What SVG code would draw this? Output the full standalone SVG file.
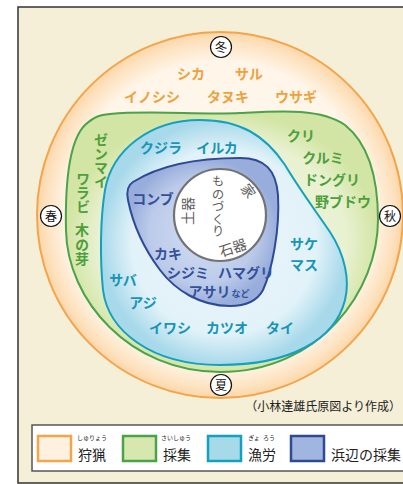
<svg xmlns="http://www.w3.org/2000/svg" width="403" height="484" viewBox="0 0 403 484">
<defs>
<radialGradient id="gOuter" cx="50%" cy="50%" r="50%">
<stop offset="0" stop-color="#fffaf3"/>
<stop offset="0.84" stop-color="#fff5e8"/>
<stop offset="0.95" stop-color="#fde2bf"/>
<stop offset="1" stop-color="#fcd6aa"/>
</radialGradient>
<radialGradient id="gGreen" cx="50%" cy="50%" r="50%">
<stop offset="0" stop-color="#f2f7e4"/>
<stop offset="0.8" stop-color="#e8f1d0"/>
<stop offset="1" stop-color="#d2e5a4"/>
</radialGradient>
<radialGradient id="gCyan" cx="50%" cy="50%" r="50%">
<stop offset="0" stop-color="#eaf6fb"/>
<stop offset="0.75" stop-color="#e2f2f9"/>
<stop offset="1" stop-color="#a8d9ea"/>
</radialGradient>
<radialGradient id="gNavy" cx="50%" cy="50%" r="50%">
<stop offset="0" stop-color="#d2def3"/>
<stop offset="0.7" stop-color="#bccbea"/>
<stop offset="1" stop-color="#98addb"/>
</radialGradient>
<style>
.t{font-family:"Noto Sans CJK JP","Noto Sans",sans-serif;font-weight:bold;font-size:14px;text-anchor:middle}
.v{font-family:"Noto Sans CJK JP","Noto Sans",sans-serif;font-weight:bold;font-size:14px;writing-mode:vertical-rl;text-anchor:start}
.o{fill:#f0a03c}
.g{fill:#4e9e3c}
.c{fill:#1695b6}
.n{fill:#34509a}
.m{font-family:"Noto Sans CJK JP","Noto Sans",sans-serif;font-size:14px;fill:#5e5e5e;text-anchor:middle}
.s{font-family:"Noto Sans CJK JP","Noto Sans",sans-serif;font-size:12px;fill:#111;text-anchor:middle}
.sc{fill:#fff;stroke:#111;stroke-width:1.2}
.lg{font-family:"Noto Sans CJK JP","Noto Sans",sans-serif;font-size:14px;fill:#222}
.fu{font-family:"Noto Sans CJK JP","Noto Sans",sans-serif;font-size:6px;fill:#222;text-anchor:middle}
</style>
</defs>
<rect x="18" y="7" width="400" height="476" fill="#f5efd8" stroke="#333" stroke-width="1.5"/>

<g id="hunting">
<circle cx="220" cy="215" r="183" fill="url(#gOuter)" stroke="#f4a54a" stroke-width="2"/>
</g>
<g id="gathering">
<path d="M110,114 C150,110 200,115 240,113 C280,111 320,108 345,125 C370,145 378,180 378,220 C378,290 320,372 220,372 C130,372 67,300 66,230 C65,180 70,140 85,125 C95,116 100,115 110,114 Z" fill="url(#gGreen)" stroke="#4aa24a" stroke-width="2"/>
</g>
<g id="fishing">
<path d="M200,120 C240,120 265,135 285,165 C300,190 315,210 330,232 C345,255 350,280 345,300 C335,340 290,365 220,365 C150,365 108,330 103,290 C100,260 100,220 105,190 C112,150 150,120 200,120 Z" fill="url(#gCyan)" stroke="#14a0bf" stroke-width="2"/>
</g>
<g id="shore">
<path d="M133,182 C160,165 200,158 240,158 C265,158 276,170 278,195 C280,230 272,270 263,290 C256,303 242,306 230,306 C200,306 175,290 160,270 C145,250 133,225 128,200 C126,190 128,185 133,182 Z" fill="url(#gNavy)" stroke="#2e4a96" stroke-width="2"/>
</g>
<g id="craft">
<circle cx="220" cy="215" r="46" fill="#fff" stroke="#737373" stroke-width="2.2"/>
<text class="m" x="218" y="175" style="writing-mode:vertical-rl;text-anchor:start;font-size:12.5px">ものづくり</text>
<text class="m" font-size="14" transform="translate(248,191) rotate(55)" y="5">家</text>
<text class="m" font-size="15" transform="translate(188,211) rotate(-90)" y="5">土器</text>
<text class="m" font-size="15" transform="translate(233,248) rotate(-18)" y="5">石器</text>
</g>

<g id="labels-hunting">
<text class="t o" x="191" y="79">シカ</text>
<text class="t o" x="249" y="79">サル</text>
<text class="t o" x="152" y="102">イノシシ</text>
<text class="t o" x="228" y="102">タヌキ</text>
<text class="t o" x="296" y="102">ウサギ</text>
</g>
<g id="labels-gathering">
<text class="v g" x="101" y="133">ゼンマイ</text>
<text class="v g" x="83" y="172">ワラビ</text>
<text class="v g" x="82" y="223" letter-spacing="0.5">木の芽</text>
<text class="t g" x="301" y="141">クリ</text>
<text class="t g" x="323" y="163">クルミ</text>
<text class="t g" x="332" y="185">ドングリ</text>
<text class="t g" x="343" y="207">野ブドウ</text>
</g>
<g id="labels-fishing">
<text class="t c" x="161" y="153">クジラ</text>
<text class="t c" x="217" y="153">イルカ</text>
<text class="t c" x="304" y="249">サケ</text>
<text class="t c" x="304" y="270">マス</text>
<text class="t c" x="123" y="285">サバ</text>
<text class="t c" x="143" y="308">アジ</text>
<text class="t c" x="170" y="333">イワシ</text>
<text class="t c" x="227" y="333">カツオ</text>
<text class="t c" x="280" y="333">タイ</text>
</g>
<g id="labels-shore">
<text class="t n" x="153" y="204">コンブ</text>
<text class="t n" x="168" y="259">カキ</text>
<text class="t n" x="188" y="278">シジミ</text>
<text class="t n" x="246" y="278">ハマグリ</text>
<text class="t n" x="219" y="297">アサリ<tspan font-size="9" dx="1">など</tspan></text>
</g>

<g id="seasons">
<circle class="sc" cx="221" cy="47" r="10.5"/><text class="s" x="221" y="51.5">冬</text>
<circle class="sc" cx="221" cy="385" r="10.5"/><text class="s" x="221" y="389.5">夏</text>
<circle class="sc" cx="51" cy="216" r="10.5"/><text class="s" x="51" y="220.5">春</text>
<circle class="sc" cx="390" cy="216" r="10.5"/><text class="s" x="390" y="220.5">秋</text>
</g>

<text id="caption" x="401" y="411" font-family="'Noto Sans CJK JP',sans-serif" font-size="12" fill="#222" text-anchor="end">（小林達雄氏原図より作成）</text>

<g id="legend">
<rect x="32" y="425" width="390" height="46" fill="#fff" stroke="#555" stroke-width="1.5"/>
<rect x="38" y="436" width="33" height="25" fill="#fef1df" stroke="#f4a54a" stroke-width="2.5"/>
<text class="fu" x="92" y="440">しゅりょう</text>
<text class="lg" x="78" y="460">狩猟</text>
<rect x="123" y="436" width="33" height="25" fill="#d6e8b0" stroke="#4aa24a" stroke-width="2.5"/>
<text class="fu" x="176" y="440">さいしゅう</text>
<text class="lg" x="163" y="460">採集</text>
<rect x="208" y="436" width="33" height="25" fill="#a6dae8" stroke="#14a0bf" stroke-width="2.5"/>
<text class="fu"><tspan x="254" y="440">ぎょ</tspan><tspan x="269" y="440">ろう</tspan></text>
<text class="lg" x="248" y="460">漁労</text>
<rect x="291" y="436" width="33" height="25" fill="#a0b6e0" stroke="#2e4a96" stroke-width="2.5"/>
<text class="lg" x="331" y="460" font-size="13.5">浜辺の採集</text>
</g>
</svg>
